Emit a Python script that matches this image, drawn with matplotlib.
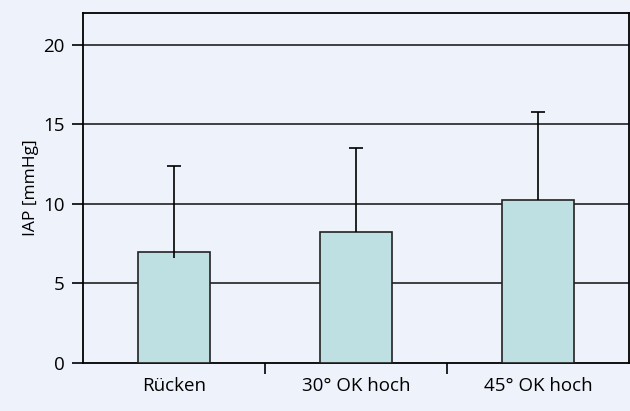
import matplotlib.pyplot as plt

# IAP by position (mean bar, upper SD whisker)
categories = ["Rücken", "30° OK hoch", "45° OK hoch"]
means = [7.0, 8.25, 10.25]
upper = [12.4, 13.5, 15.8]
whisker_low = [6.6, 8.25, 10.25]  # first whisker starts slightly inside the bar in the original

BG = "#eef2fa"
BAR = "#bfe0e3"

plt.rcParams["font.family"] = ["Open Sans", "DejaVu Sans"]

fig = plt.figure(figsize=(6.3, 4.11), dpi=100, facecolor=BG)
ax = fig.add_axes([0.1317, 0.1168, 0.8666, 0.8512], facecolor=BG)

x = range(len(categories))
ax.bar(x, means, width=0.4, color=BAR, edgecolor="#222222", linewidth=1.2, zorder=3)
ax.vlines(x, whisker_low, upper, color="black", linewidth=1.2, zorder=4)
ax.hlines(upper, [i - 0.04 for i in x], [i + 0.04 for i in x], color="black", linewidth=1.2, zorder=4)

ax.set_xlim(-0.5, 2.5)
ax.set_ylim(0, 22)
ax.set_yticks([0, 5, 10, 15, 20])
for y in [5, 10, 15, 20]:
    ax.axhline(y, color="#222222", linewidth=1.2, zorder=1)

ax.set_xticks(list(x))
ax.set_xticklabels(categories, fontsize=13.5)
ax.set_xticks([0.5, 1.5], minor=True)
ax.tick_params(axis="x", which="major", length=0, pad=10)
ax.tick_params(axis="x", which="minor", length=8, width=1.2, direction="out")
ax.tick_params(axis="y", length=8, width=1.2, direction="out", labelsize=13.5, pad=5)

for spine in ax.spines.values():
    spine.set_linewidth(1.3)
    spine.set_color("black")

ax.set_ylabel("IAP [mmHg]", fontsize=12.5, labelpad=3)

fig.savefig("out.png", dpi=100, facecolor=BG)
